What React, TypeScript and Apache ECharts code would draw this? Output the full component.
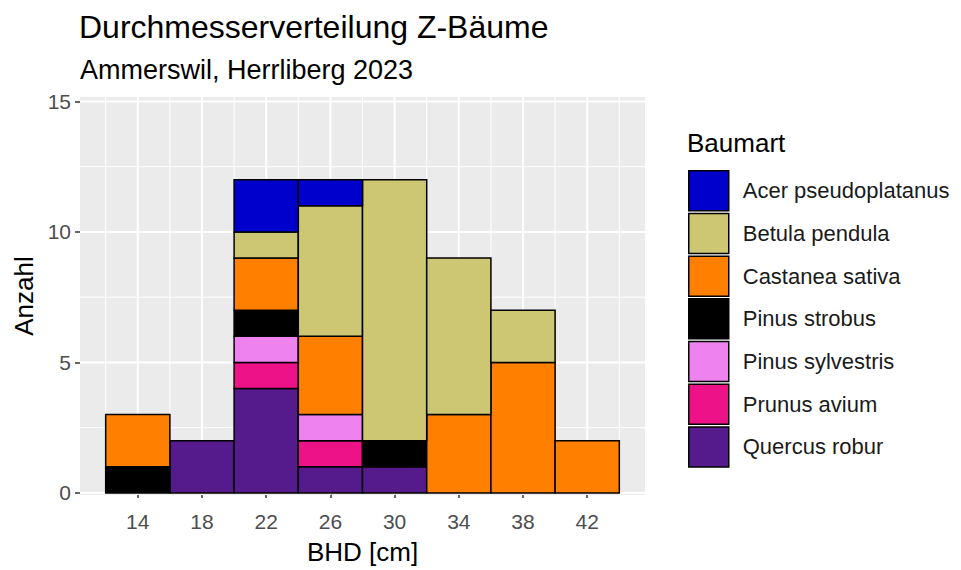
import React, { useEffect, useRef } from "react";
import * as echarts from "echarts";

const binStarts = [12, 16, 20, 24, 28, 32, 36, 40];
const binWidth = 4;
const xTicks = [14, 18, 22, 26, 30, 34, 38, 42];
const yTicks = [0, 5, 10, 15];
const xGridMinor = [12, 16, 20, 24, 28, 32, 36, 40, 44];
const yGridMinor = [2.5, 7.5, 12.5];

const species = [
  "Acer pseudoplatanus",
  "Betula pendula",
  "Castanea sativa",
  "Pinus strobus",
  "Pinus sylvestris",
  "Prunus avium",
  "Quercus robur",
];
const speciesColors = ["#0000CD", "#CDC673", "#FF7F00", "#000000", "#EE82EE", "#EE1289", "#551A8B"];

const acerPseudoplatanus = [0, 0, 2, 1, 0, 0, 0, 0];
const betulaPendula = [0, 0, 1, 5, 10, 6, 2, 0];
const castaneaSativa = [2, 0, 2, 3, 0, 3, 5, 2];
const pinusStrobus = [1, 0, 1, 0, 1, 0, 0, 0];
const pinusSylvestris = [0, 0, 1, 1, 0, 0, 0, 0];
const prunusAvium = [0, 0, 1, 1, 0, 0, 0, 0];
const quercusRobur = [0, 2, 4, 1, 1, 0, 0, 0];

const countsBySpecies = [
  acerPseudoplatanus,
  betulaPendula,
  castaneaSativa,
  pinusStrobus,
  pinusSylvestris,
  prunusAvium,
  quercusRobur,
];

const X_MIN = 10.4;
const X_MAX = 45.6;
const Y_MIN = -0.08;
const Y_MAX = 15.17;

const FONT = "'Liberation Sans', Arial, sans-serif";

export default function App() {
  const ref = useRef<HTMLDivElement>(null);
  useEffect(() => {
    if (!ref.current) return;
    const chart = echarts.init(ref.current, undefined, { renderer: "svg" });

    // stack bottom -> top: reverse of legend order
    const cumulative = binStarts.map(() => 0);
    const stackOrder = species.map((_, i) => i).reverse();
    const barSeries: any[] = [];
    stackOrder.forEach((si) => {
      const data: number[][] = [];
      countsBySpecies[si].forEach((c, bi) => {
        if (c > 0) {
          const y0 = cumulative[bi];
          const y1 = y0 + c;
          data.push([binStarts[bi], binStarts[bi] + binWidth, y0, y1]);
          cumulative[bi] = y1;
        }
      });
      const color = speciesColors[si];
      barSeries.push({
        name: species[si],
        type: "custom",
        z: 5,
        itemStyle: { color, borderColor: "#000", borderWidth: 1.5 },
        encode: { x: [0, 1], y: [2, 3] },
        data,
        renderItem: (params: any, api: any) => {
          const p0 = api.coord([api.value(0), api.value(2)]);
          const p1 = api.coord([api.value(1), api.value(3)]);
          return {
            type: "rect",
            shape: { x: p0[0], y: p1[1], width: p1[0] - p0[0], height: p0[1] - p1[1] },
            style: { fill: color, stroke: "#000", lineWidth: 1.5 },
          };
        },
      });
    });

    const yGridData = [
      ...yTicks.map((v) => [v, 1]),
      ...yGridMinor.map((v) => [v, 0]),
    ];
    const xGridData = [
      ...xTicks.map((v) => [v, 1]),
      ...xGridMinor.map((v) => [v, 0]),
    ];

    const gridYSeries = {
      type: "custom",
      name: "gridY",
      z: 1,
      silent: true,
      encode: { y: 0 },
      data: yGridData,
      renderItem: (params: any, api: any) => {
        const cs = params.coordSys;
        const y = api.coord([X_MIN, api.value(0)])[1];
        const major = api.value(1) === 1;
        return {
          type: "line",
          shape: { x1: cs.x, y1: y, x2: cs.x + cs.width, y2: y },
          style: { stroke: "#FFFFFF", lineWidth: major ? 2 : 1 },
        };
      },
    };
    const gridXSeries = {
      type: "custom",
      name: "gridX",
      z: 1,
      silent: true,
      encode: { x: 0 },
      data: xGridData,
      renderItem: (params: any, api: any) => {
        const cs = params.coordSys;
        const x = api.coord([api.value(0), 0])[0];
        const major = api.value(1) === 1;
        return {
          type: "line",
          shape: { x1: x, y1: cs.y, x2: x, y2: cs.y + cs.height },
          style: { stroke: "#FFFFFF", lineWidth: major ? 2 : 1 },
        };
      },
    };

    const option: any = {
      animation: false,
      backgroundColor: "#FFFFFF",
      textStyle: { fontFamily: FONT },
      grid: {
        left: 80,
        top: 97,
        width: 565,
        height: 398,
        show: true,
        backgroundColor: "#EBEBEB",
        borderWidth: 0,
      },
      xAxis: {
        type: "value",
        min: X_MIN,
        max: X_MAX,
        name: "BHD [cm]",
        nameLocation: "middle",
        nameGap: 44,
        nameTextStyle: { fontSize: 26, color: "#000", fontFamily: FONT },
        axisLine: { show: false },
        splitLine: { show: false },
        axisTick: {
          show: true,
          customValues: xTicks,
          length: 5,
          lineStyle: { color: "#333333", width: 1.5 },
        },
        axisLabel: {
          customValues: xTicks,
          fontSize: 21,
          color: "#4D4D4D",
          margin: 16,
          fontFamily: FONT,
        },
      },
      yAxis: {
        type: "value",
        min: Y_MIN,
        max: Y_MAX,
        name: "Anzahl",
        nameLocation: "middle",
        nameGap: 43,
        nameTextStyle: { fontSize: 26, color: "#000", fontFamily: FONT },
        axisLine: { show: false },
        splitLine: { show: false },
        axisTick: {
          show: true,
          customValues: yTicks,
          length: 5,
          lineStyle: { color: "#333333", width: 1.5 },
        },
        axisLabel: {
          customValues: yTicks,
          fontSize: 21,
          color: "#4D4D4D",
          margin: 9,
          fontFamily: FONT,
        },
      },
      legend: {
        data: species,
        orient: "vertical",
        left: 688,
        top: 170,
        padding: 0,
        itemWidth: 40,
        itemHeight: 40,
        itemGap: 1.2,
        icon: "rect",
        selectedMode: false,
        itemStyle: { borderColor: "#000", borderWidth: 1.5 },
        textStyle: { fontSize: 22, color: "#1A1A1A", fontFamily: FONT, padding: [0, 0, 0, 9] },
      },
      graphic: [
        {
          type: "text",
          left: 79,
          top: 11,
          style: {
            text: "Durchmesserverteilung Z-Bäume",
            fontSize: 32,
            fill: "#000",
            fontFamily: FONT,
          },
        },
        {
          type: "text",
          left: 80,
          top: 56,
          style: {
            text: "Ammerswil, Herrliberg 2023",
            fontSize: 27,
            fill: "#000",
            fontFamily: FONT,
          },
        },
        {
          type: "text",
          left: 687,
          top: 130,
          style: {
            text: "Baumart",
            fontSize: 26,
            fill: "#000",
            fontFamily: FONT,
          },
        },
      ],
      series: [gridYSeries, gridXSeries, ...barSeries],
    };
    chart.setOption(option);
    return () => chart.dispose();
  }, []);
  return (
    <div
      ref={ref}
      style={{ position: "absolute", left: 0, top: 0, width: 961, height: 570, background: "#fff" }}
    />
  );
}
